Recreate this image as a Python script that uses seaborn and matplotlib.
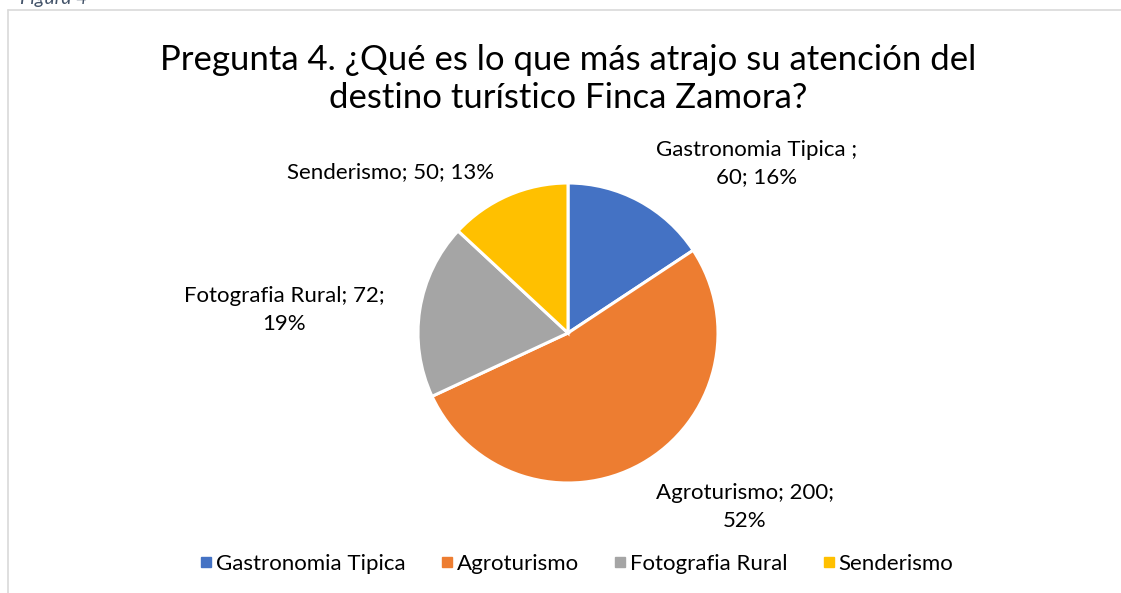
import numpy as np
import seaborn as sns
import matplotlib.pyplot as plt
from matplotlib.lines import Line2D

# datos de la encuesta
categorias = ["Gastronomia Tipica", "Agroturismo", "Fotografia Rural", "Senderismo"]
respuestas = [60, 200, 72, 50]
etiquetas = ["Gastronomia Tipica ;\n60; 16%", "Agroturismo; 200;\n52%",
             "Fotografia Rural; 72;\n19%", "Senderismo; 50; 13%"]
colores = ["#4472c4", "#ed7d31", "#a5a5a5", "#ffc000"]

titulo = "Pregunta 4. ¿Qué es lo que más atrajo su atención del\ndestino turístico Finca Zamora?"

# posiciones de las etiquetas (en radios del pastel)
pos_etiquetas = [(1.26, 1.13), (1.18, -1.16), (-1.89, 0.15), (-1.18, 1.07)]

W, H = 1121, 593
cx, cy, r = 568, 333, 150


def set_config():
    sns.set_theme(style="white")
    plt.rcParams["font.family"] = ["Lato", "DejaVu Sans"]
    plt.rcParams["text.color"] = "#000000"


def main():
    set_config()
    fig = plt.figure(figsize=(W / 100, H / 100), dpi=100)
    ax = fig.add_axes([0, 0, 1, 1])

    wedges, _ = ax.pie(respuestas, colors=colores, startangle=90, counterclock=False,
                       radius=1, wedgeprops=dict(edgecolor="white", linewidth=2.2))
    ax.set_xlim(-cx / r, (W - cx) / r)
    ax.set_ylim(-(H - cy) / r, cy / r)
    ax.set_aspect("auto")
    ax.axis("off")

    for txt, (x, y) in zip(etiquetas, pos_etiquetas):
        ax.text(x, y, txt, ha="center", va="center", fontsize=16,
                linespacing=1.5, color="#000000")

    fig.text(568 / W, 1 - 79 / H, titulo, ha="center", va="center",
             fontsize=25, linespacing=1.24, color="#000000")

    # "Figura 4" cortado arriba, como en el original
    fig.text(20 / W, 1 - 4 / H, "Figura 4", ha="left", va="baseline",
             fontsize=14, style="italic", color="#44546a")

    # borde del gráfico
    fig.add_artist(Line2D([8 / W, 1], [1 - 10 / H, 1 - 10 / H], color="#d9d9d9", lw=1.2))
    fig.add_artist(Line2D([8 / W, 8 / W], [1 - 10 / H, 0], color="#d9d9d9", lw=1.2))

    handles = [Line2D([], [], marker="s", ls="", markersize=6.5, color=c) for c in colores]
    fig.legend(handles, categorias, loc="center", bbox_to_anchor=(577 / W, 1 - 564 / H),
               ncol=4, frameon=False, fontsize=16, handletextpad=0.2,
               columnspacing=1.6, handlelength=0.5)

    fig.savefig("out.png", dpi=100)


if __name__ == "__main__":
    main()
